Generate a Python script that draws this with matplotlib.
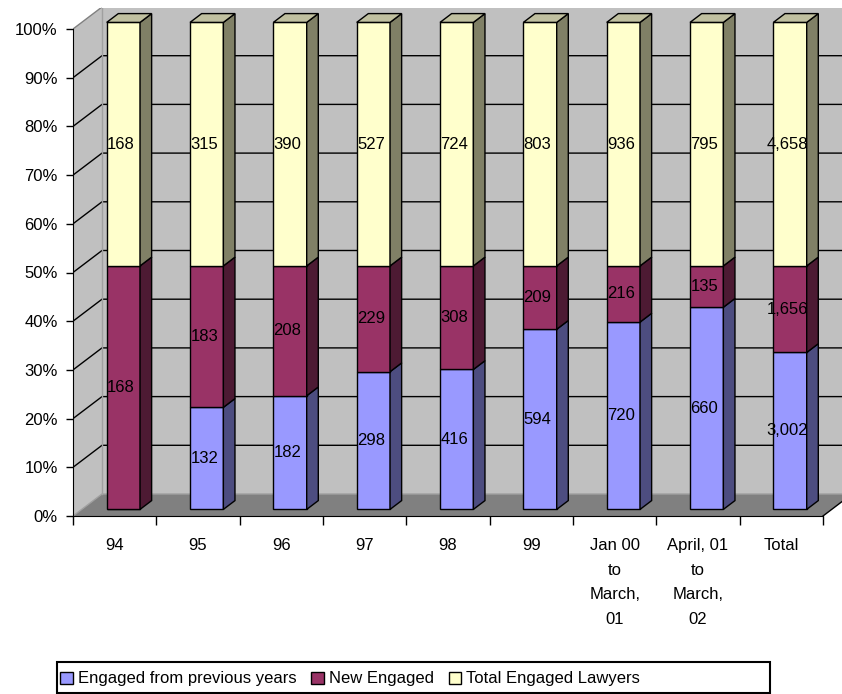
import matplotlib
matplotlib.use("Agg")
import matplotlib.pyplot as plt
from matplotlib.patches import Polygon, Rectangle, Patch
from matplotlib.font_manager import fontManager
import numpy as np

# ---------------- data ----------------
categories = ["94", "95", "96", "97", "98", "99",
              "Jan 00\nto\nMarch,\n01", "April, 01\nto\nMarch,\n02", "Total"]
engaged_prev = [0, 132, 182, 298, 416, 594, 720, 660, 3002]
new_engaged = [168, 183, 208, 229, 308, 209, 216, 135, 1656]
total_engaged = [168, 315, 390, 527, 724, 803, 936, 795, 4658]
series_names = ["Engaged from previous years", "New Engaged", "Total Engaged Lawyers"]
y_ticks = [0, 10, 20, 30, 40, 50, 60, 70, 80, 90, 100]
y_tick_labels = ["0%", "10%", "20%", "30%", "40%", "50%", "60%", "70%", "80%", "90%", "100%"]

front_colors = ["#9999FF", "#993366", "#FFFFCC"]
side_colors = ["#4D4D80", "#4D1A33", "#808066"]
top_color = "#C0C0A0"

names = {f.name for f in fontManager.ttflist}
fam = [f for f in ["Liberation Sans Narrow", "Liberation Sans", "DejaVu Sans"] if f in names]
plt.rcParams["font.family"] = fam
plt.rcParams["font.size"] = 12

W, H = 842, 694
fig = plt.figure(figsize=(W / 100, H / 100), dpi=100)
fig.patch.set_facecolor("white")

# pixel geometry of the plot frame
x0_px, x1_px = 73, 842
y0_px, ytop_px = 516, 8
px_per_cat = 750 / 9
px_per_pct = 487 / 100
ax = fig.add_axes([x0_px / W, (H - y0_px) / H, (x1_px - x0_px) / W, (y0_px - ytop_px) / H])
ax.set_xlim(0, (x1_px - x0_px) / px_per_cat)
ax.set_ylim(0, (y0_px - ytop_px) / px_per_pct)
ax.patch.set_alpha(0)

n = len(categories)
DX = 29 / px_per_cat
DY = 22 / px_per_pct

# walls & floor
wall_c = "#C0C0C0"
ax.add_patch(Polygon([(0, 0), (0, 100), (DX, 100 + DY), (DX, DY)], closed=True,
                     fc=wall_c, ec="none", zorder=0, clip_on=False))
ax.add_patch(Polygon([(DX, DY), (n + DX, DY), (n + DX, 100 + DY), (DX, 100 + DY)], closed=True,
                     fc=wall_c, ec="none", zorder=0))
ax.add_patch(Polygon([(0, 0), (n, 0), (n + DX, DY), (DX, DY)], closed=True,
                     fc="#808080", ec="none", zorder=0.5))
for v in y_ticks[1:-1]:
    ax.plot([0, DX, n + DX], [v, v + DY, v + DY], color="black", lw=1, zorder=1, solid_capstyle="butt")
ax.plot([0, DX, n + DX], [100, 100 + DY, 100 + DY], color="#808080", lw=1, zorder=1)
ax.plot([DX, DX], [DY, 100 + DY], color="#A0A0A0", lw=1, zorder=1)
ax.plot([0, DX, n + DX], [0, DY, DY], color="#A0A0A0", lw=1, zorder=0.6)
ax.plot([n, n + DX], [0, DY], color="black", lw=1, zorder=1, clip_on=False)

# bars
series = [np.array(engaged_prev, float), np.array(new_engaged, float), np.array(total_engaged, float)]
totals = series[0] + series[1] + series[2]
xc = np.arange(n) + 0.5
bw = 0.4
f0, f1 = 0.3, 0.7
d = f1 - f0
bottoms = np.zeros(n)
for s, vals in enumerate(series):
    p = vals / totals * 100
    ax.bar(xc + f0 * DX, p, width=bw, bottom=bottoms + f0 * DY, color=front_colors[s],
           edgecolor="black", linewidth=1, zorder=3)
    for i in range(n):
        if p[i] <= 0:
            continue
        xr = xc[i] + f0 * DX + bw / 2
        xl = xc[i] + f0 * DX - bw / 2
        yb = bottoms[i] + f0 * DY
        yt = yb + p[i]
        ax.add_patch(Polygon([(xr, yb), (xr + d * DX, yb + d * DY), (xr + d * DX, yt + d * DY), (xr, yt)],
                             closed=True, fc=side_colors[s], ec="black", lw=1, zorder=3))
        if s == len(series) - 1:
            ax.add_patch(Polygon([(xl, yt), (xr, yt), (xr + d * DX, yt + d * DY), (xl + d * DX, yt + d * DY)],
                                 closed=True, fc=top_color, ec="black", lw=1, zorder=3))
        ax.text(xc[i] + f0 * DX - 0.03, yb + p[i] / 2, f"{int(vals[i]):,}",
                ha="center", va="center", fontsize=12, zorder=5)
    bottoms = bottoms + p

# axes lines and ticks
for sp in ["top", "right"]:
    ax.spines[sp].set_visible(False)
ax.spines["left"].set_bounds(0, 100)
ax.spines["bottom"].set_bounds(0, n)
ax.spines["left"].set_zorder(4)
ax.spines["bottom"].set_zorder(4)
ax.set_yticks(y_ticks)
ax.set_yticklabels(y_tick_labels)
ax.tick_params(axis="y", direction="out", length=5, width=1, pad=6)
ax.set_xticks(np.arange(n + 1))
ax.set_xticklabels([])
ax.tick_params(axis="x", which="major", direction="out", length=6.5, width=1)
ax.set_xticks(xc, minor=True)
ax.set_xticklabels(categories, minor=True, linespacing=1.8, multialignment="center")
ax.tick_params(axis="x", which="minor", length=0, pad=16)

# legend
handles = [Patch(facecolor=c, edgecolor="black", linewidth=1) for c in front_colors]
fig.legend(handles, series_names, loc="center left", bbox_to_anchor=(60 / W, 1 - 679 / H),
           ncol=3, frameon=False, handlelength=0.75, handleheight=0.75, handletextpad=0.3,
           columnspacing=0.9, borderaxespad=0, borderpad=0, fontsize=12)
fig.add_artist(Rectangle((57 / W, 1 / H), (770 - 57) / W, 31 / H, transform=fig.transFigure,
                         fill=False, edgecolor="black", linewidth=1.5))

fig.savefig("out.png", dpi=100)
